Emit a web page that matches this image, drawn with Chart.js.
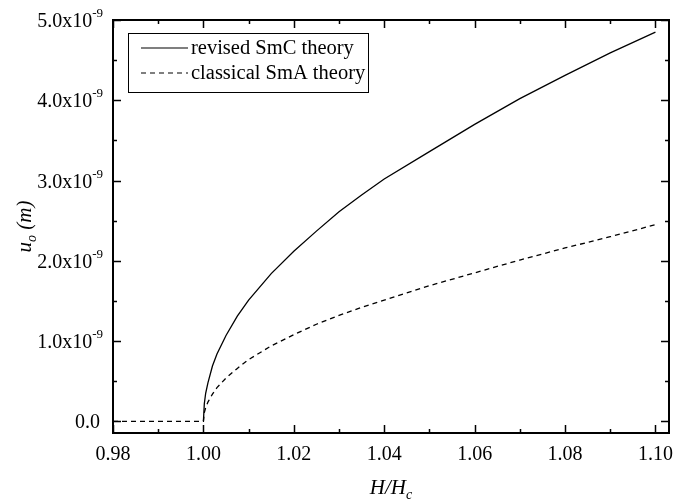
<!DOCTYPE html>
<html>
<head>
<meta charset="utf-8">
<script src="https://cdn.jsdelivr.net/npm/chart.js@4"></script>
<style>
  html, body { margin: 0; padding: 0; background: #fff; }
  #wrap { width: 674px; height: 501px; }
</style>
</head>
<body>
<div id="wrap"><canvas id="chart"></canvas></div>
<script>
// values (y in units of 1e-9 m)
const smcX = [1.0, 1.0002, 1.0005, 1.001, 1.002, 1.003, 1.005, 1.0075, 1.01, 1.015, 1.02, 1.025, 1.03, 1.035, 1.04, 1.05, 1.06, 1.07, 1.08, 1.09, 1.10];
const smcY = [0, 0.22, 0.35, 0.48, 0.69, 0.84, 1.07, 1.31, 1.51, 1.84, 2.12, 2.37, 2.61, 2.82, 3.02, 3.36, 3.70, 4.02, 4.31, 4.59, 4.85];
const smaX = [0.98, 0.99, 1.0, 1.0002, 1.0005, 1.001, 1.002, 1.003, 1.005, 1.0075, 1.01, 1.015, 1.02, 1.025, 1.03, 1.035, 1.04, 1.05, 1.06, 1.07, 1.08, 1.09, 1.10];
const smaY = [0, 0, 0, 0.11, 0.17, 0.24, 0.34, 0.42, 0.54, 0.66, 0.77, 0.94, 1.08, 1.21, 1.32, 1.42, 1.51, 1.69, 1.85, 2.01, 2.16, 2.30, 2.45];

const xMajor = [0.98, 1.00, 1.02, 1.04, 1.06, 1.08, 1.10];
const xMinor = [0.99, 1.01, 1.03, 1.05, 1.07, 1.09];
const yMajor = [0, 1, 2, 3, 4, 5];
const yMinor = [0.5, 1.5, 2.5, 3.5, 4.5];
const seriesNames = ["revised SmC theory", "classical SmA theory"];

const serif = "'Liberation Serif', 'Times New Roman', serif";

const toPoints = (xs, ys) => xs.map((x, i) => ({ x: x, y: ys[i] }));

// axes, ticks, labels and legend drawn by hand to get the inward tick style
const framePlugin = {
  id: "frame",
  afterDraw(chart) {
    const ctx = chart.ctx;
    const a = chart.chartArea;
    const xs = chart.scales.x;
    const ys = chart.scales.y;
    ctx.save();
    ctx.strokeStyle = "#000";
    ctx.fillStyle = "#000";

    // frame
    ctx.lineWidth = 2;
    ctx.strokeRect(a.left, a.top, a.right - a.left, a.bottom - a.top);

    // ticks
    ctx.lineWidth = 1.5;
    ctx.beginPath();
    xMajor.forEach(v => {
      const p = Math.round(xs.getPixelForValue(v)) + 0.5;
      ctx.moveTo(p, a.bottom); ctx.lineTo(p, a.bottom - 8);
      ctx.moveTo(p, a.top); ctx.lineTo(p, a.top + 8);
    });
    xMinor.forEach(v => {
      const p = Math.round(xs.getPixelForValue(v)) + 0.5;
      ctx.moveTo(p, a.bottom); ctx.lineTo(p, a.bottom - 4);
      ctx.moveTo(p, a.top); ctx.lineTo(p, a.top + 4);
    });
    yMajor.forEach(v => {
      const p = Math.round(ys.getPixelForValue(v)) + 0.5;
      ctx.moveTo(a.left, p); ctx.lineTo(a.left + 8, p);
      ctx.moveTo(a.right, p); ctx.lineTo(a.right - 8, p);
    });
    yMinor.forEach(v => {
      const p = Math.round(ys.getPixelForValue(v)) + 0.5;
      ctx.moveTo(a.left, p); ctx.lineTo(a.left + 4, p);
      ctx.moveTo(a.right, p); ctx.lineTo(a.right - 4, p);
    });
    ctx.stroke();

    // x tick labels
    ctx.font = "20px " + serif;
    ctx.textAlign = "center";
    ctx.textBaseline = "alphabetic";
    xMajor.forEach(v => {
      ctx.fillText(v.toFixed(2), xs.getPixelForValue(v), a.bottom + 27);
    });

    // y tick labels with superscript exponent
    yMajor.forEach(v => {
      const p = ys.getPixelForValue(v);
      ctx.textAlign = "right";
      if (v === 0) {
        ctx.font = "20px " + serif;
        ctx.fillText("0.0", a.left - 13, p + 7);
      } else {
        ctx.font = "13px " + serif;
        const expW = ctx.measureText("-9").width;
        ctx.fillText("-9", a.left - 10, p - 3);
        ctx.font = "20px " + serif;
        ctx.fillText(v.toFixed(1) + "x10", a.left - 10 - expW, p + 7);
      }
    });

    // x title H/Hc
    ctx.textAlign = "left";
    ctx.font = "italic 21px " + serif;
    const main = "H/H";
    const mw = ctx.measureText(main).width;
    ctx.font = "italic 14px " + serif;
    const cw = ctx.measureText("c").width;
    const tx = (a.left + a.right) / 2 - (mw + cw) / 2;
    ctx.font = "italic 21px " + serif;
    ctx.fillText(main, tx, 494);
    ctx.font = "italic 14px " + serif;
    ctx.fillText("c", tx + mw, 499);

    // y title u_o (m)
    ctx.save();
    ctx.translate(31, (a.top + a.bottom) / 2);
    ctx.rotate(-Math.PI / 2);
    ctx.font = "italic 21px " + serif;
    const uw = ctx.measureText("u").width;
    ctx.font = "italic 14px " + serif;
    const ow = ctx.measureText("o").width;
    ctx.font = "italic 21px " + serif;
    const rw = ctx.measureText(" (m)").width;
    let yx = -(uw + ow + rw) / 2;
    ctx.fillText("u", yx, 0);
    ctx.font = "italic 14px " + serif;
    ctx.fillText("o", yx + uw, 5);
    ctx.font = "italic 21px " + serif;
    ctx.fillText(" (m)", yx + uw + ow, 0);
    ctx.restore();

    // legend box
    ctx.lineWidth = 1;
    ctx.strokeRect(128.5, 33.5, 240, 59);
    ctx.font = "20.5px " + serif;
    ctx.textAlign = "left";
    ctx.lineWidth = 1.2;
    ctx.beginPath();
    ctx.moveTo(141, 48); ctx.lineTo(188, 48);
    ctx.stroke();
    ctx.setLineDash([5, 4]);
    ctx.beginPath();
    ctx.moveTo(141, 73); ctx.lineTo(188, 73);
    ctx.stroke();
    ctx.setLineDash([]);
    ctx.fillText(seriesNames[0], 191, 54);
    ctx.fillText(seriesNames[1], 191, 79);

    ctx.restore();
  }
};

new Chart(document.getElementById("chart"), {
  type: "line",
  data: {
    datasets: [
      {
        label: seriesNames[0],
        data: toPoints(smcX, smcY),
        borderColor: "#000",
        borderWidth: 1.3,
        pointRadius: 0,
        tension: 0,
        fill: false
      },
      {
        label: seriesNames[1],
        data: toPoints(smaX, smaY),
        borderColor: "#000",
        borderWidth: 1.3,
        borderDash: [5, 4],
        pointRadius: 0,
        tension: 0,
        fill: false
      }
    ]
  },
  options: {
    responsive: true,
    maintainAspectRatio: false,
    animation: false,
    layout: { padding: { left: 113, right: 5, top: 20, bottom: 68 } },
    plugins: { legend: { display: false }, tooltip: { enabled: false } },
    scales: {
      x: { type: "linear", min: 0.98, max: 1.103, display: false },
      y: { type: "linear", min: -0.145, max: 5.0, display: false }
    }
  },
  plugins: [framePlugin]
});
</script>
</body>
</html>
